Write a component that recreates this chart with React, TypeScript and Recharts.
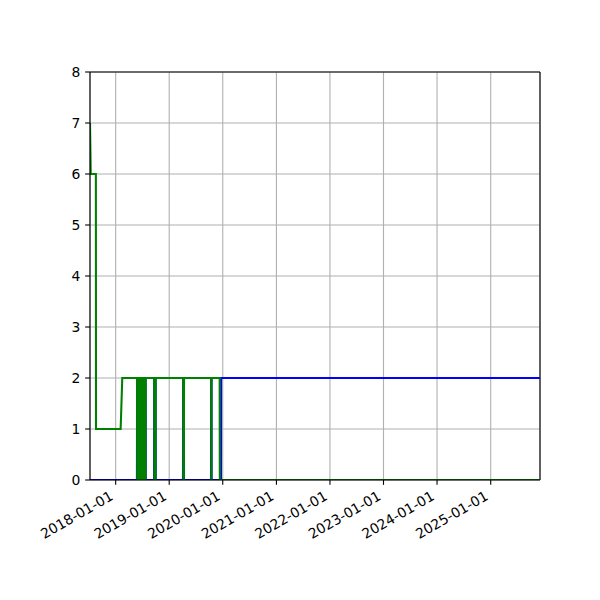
import React from "react";
import { LineChart, Line, XAxis, YAxis, CartesianGrid, ReferenceLine } from "recharts";

const domainStart = "2017-07-10";
const domainEnd = "2025-12-03";

const xTickLabels = [
  "2018-01-01", "2019-01-01", "2020-01-01", "2021-01-01",
  "2022-01-01", "2023-01-01", "2024-01-01", "2025-01-01",
];
const yTicks = [0, 1, 2, 3, 4, 5, 6, 7, 8];

const greenDates = [
  "2017-07-10", "2017-07-15", "2017-08-19", "2017-08-20", "2018-02-04", "2018-02-15",
  "2018-05-27", "2018-05-28", "2018-06-01", "2018-06-02", "2018-06-05", "2018-06-06",
  "2018-06-09", "2018-06-10", "2018-06-13", "2018-06-14", "2018-06-18", "2018-06-19",
  "2018-06-22", "2018-06-23", "2018-06-27", "2018-06-28", "2018-07-01", "2018-07-02",
  "2018-07-06", "2018-07-07", "2018-07-10", "2018-07-11", "2018-07-15", "2018-07-16",
  "2018-07-19", "2018-07-20", "2018-07-24", "2018-07-25",
  "2018-09-21", "2018-09-22", "2018-09-30", "2018-10-01",
  "2019-04-06", "2019-04-07", "2019-04-11", "2019-04-12",
  "2019-10-14", "2019-10-15", "2019-10-16", "2019-10-17",
  "2019-12-11", "2019-12-12", "2025-12-03",
];
const greenValues = [
  7, 6, 6, 1, 1, 2,
  2, 0, 0, 2, 2, 0,
  0, 2, 2, 0, 0, 2,
  2, 0, 0, 2, 2, 0,
  0, 2, 2, 0, 0, 2,
  2, 0, 0, 2,
  2, 0, 0, 2,
  2, 0, 0, 2,
  2, 0, 0, 2,
  2, 0, 0,
];

const blueDates = [
  "2017-07-10", "2018-05-26", "2018-05-27", "2018-07-24", "2018-07-25",
  "2018-09-20", "2018-09-21", "2018-09-30", "2018-10-01",
  "2019-04-05", "2019-04-06", "2019-04-11", "2019-04-12",
  "2019-10-13", "2019-10-14", "2019-10-16", "2019-10-17",
  "2019-12-20", "2019-12-21", "2025-12-03",
];
const blueValues = [
  0, 0, 2, 2, 0,
  0, 2, 2, 0,
  0, 2, 2, 0,
  0, 2, 2, 0,
  0, 2, 2,
];

const ts = (s: string) => Date.parse(s);
const greenData = greenDates.map((d, i) => ({ t: ts(d), v: greenValues[i] }));
const blueData = blueDates.map((d, i) => ({ t: ts(d), v: blueValues[i] }));
const xTicks = xTickLabels.map(ts);
const fmt = (v: number) => new Date(v).toISOString().slice(0, 10);

const FONT = "'DejaVu Sans', sans-serif";
const FS = 13.9;

const XTick = (props: any) => {
  const { x, y, payload } = props;
  const ax = x - 1.6;
  const ay = y + 9.2;
  return (
    <text
      x={ax}
      y={ay}
      textAnchor="end"
      fontSize={FS}
      fontFamily={FONT}
      fill="#000"
      transform={`rotate(-30, ${ax}, ${ay})`}
    >
      {fmt(payload.value)}
    </text>
  );
};

export default function App() {
  return (
    <div style={{ position: "absolute", left: 0, top: 0, width: 600, height: 600, background: "#fff" }}>
      <LineChart
        width={600}
        height={600}
        margin={{ top: 72, right: 60, left: 50, bottom: 40 }}
      >
        <CartesianGrid stroke="#b0b0b0" strokeWidth={1.1} />
        <XAxis
          type="number"
          dataKey="t"
          domain={[ts(domainStart), ts(domainEnd)]}
          ticks={xTicks}
          interval={0}
          allowDataOverflow
          height={80}
          tickSize={4.86}
          tickMargin={4.86}
          tick={<XTick />}
          tickLine={{ stroke: "#000", strokeWidth: 1.1 }}
          axisLine={{ stroke: "#000", strokeWidth: 1.1 }}
        />
        <YAxis
          type="number"
          domain={[0, 8]}
          ticks={yTicks}
          interval={0}
          allowDataOverflow
          width={40}
          tickSize={4.86}
          tickMargin={4.86}
          tick={{ fill: "#000", fontSize: FS, fontFamily: FONT }}
          tickLine={{ stroke: "#000", strokeWidth: 1.1 }}
          axisLine={{ stroke: "#000", strokeWidth: 1.1 }}
        />
        <ReferenceLine y={8} stroke="#000" strokeWidth={1.1} />
        <ReferenceLine x={ts(domainEnd)} stroke="#000" strokeWidth={1.1} />
        <Line
          data={blueData}
          dataKey="v"
          type="linear"
          stroke="#0000ff"
          strokeWidth={2.08}
          dot={false}
          activeDot={false}
          isAnimationActive={false}
        />
        <Line
          data={greenData}
          dataKey="v"
          type="linear"
          stroke="#008000"
          strokeWidth={2.08}
          dot={false}
          activeDot={false}
          isAnimationActive={false}
        />
      </LineChart>
    </div>
  );
}
